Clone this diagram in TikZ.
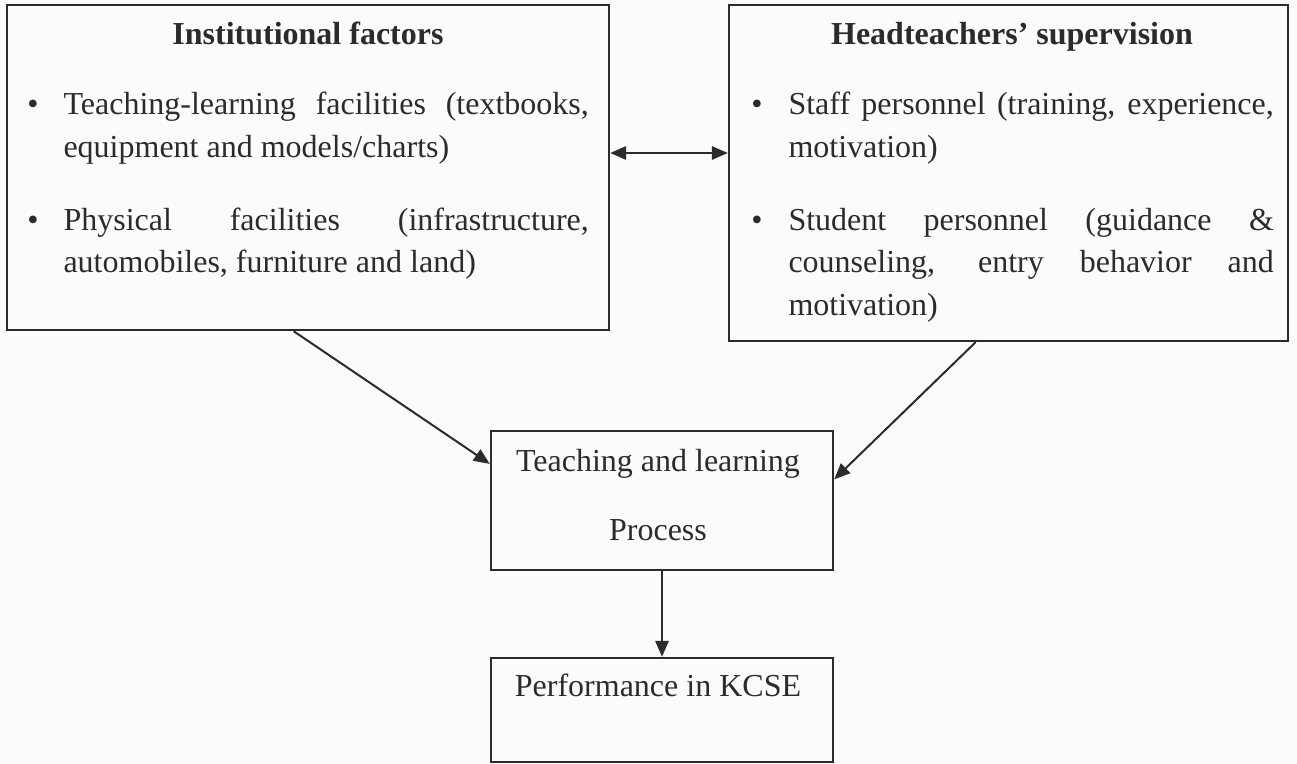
\documentclass[tikz,border=0pt]{standalone}
\usepackage{fontspec}
\setmainfont{Liberation Serif}
\usetikzlibrary{positioning}
\usetikzlibrary{arrows.meta}
\definecolor{ink}{rgb}{0.17,0.17,0.17}
\definecolor{paper}{rgb}{0.985,0.985,0.985}
\newcommand\looseline{\tolerance=10000\relax\hbadness=10000\relax
  \hyphenpenalty=10000\relax\exhyphenpenalty=10000\relax}

\begin{document}
\begin{tikzpicture}[%
  x=0.375pt, y=-0.375pt,
  every node/.style={inner sep=0pt, text=ink, font=\fontsize{12}{16.1}\selectfont},
  box/.style={draw=ink, line width=0.9pt},
  heading/.style={anchor=base, font=\fontsize{12}{16.1}\selectfont\bfseries},
  dot/.style={anchor=base},
  item/.style={anchor=base west, align=justify},
  link/.style={draw=ink, line width=0.75pt, -{Triangle[length=6pt,width=5pt]}},
  twoway/.style={draw=ink, line width=0.75pt, {Triangle[length=6pt,width=5pt]}-{Triangle[length=6pt,width=5pt]}},
]

  \useasboundingbox (0,0) rectangle (1297,764);
  \fill[paper] (0,0) rectangle (1297,764);

  % boxes
  \node[box, minimum width=225.75pt, minimum height=121.9pt] (instbox) at (308,167.5) {};
  \node[box, minimum width=209.6pt, minimum height=126pt] (supbox) at (1008.5,173) {};
  \node[box, minimum width=128.25pt, minimum height=52.1pt] (tlbox) at (662,500.5) {};
  \node[box, minimum width=128.25pt, minimum height=39pt] (perfbox) at (662,710) {};

  % institutional factors
  \node[heading] (insttitle) at (308,44) {Institutional factors};
  \node[dot] (instdotA) at (33,115) {\textbullet};
  \node[item, text width=197pt] (instA) at (63,115)
    {\looseline Teaching-learning facilities (textbooks,\linebreak equipment and models/charts)};
  \node[dot] (instdotB) at (33,230) {\textbullet};
  \node[item, text width=197pt] (instB) at (63,230)
    {\looseline Physical facilities (infrastructure,\linebreak automobiles, furniture and land)};

  % headteachers' supervision
  \node[heading] (suptitle) at (1012,44) {Headteachers' supervision};
  \node[dot] (supdotA) at (757,115) {\textbullet};
  \node[item, text width=182pt] (supA) at (788,115)
    {\looseline Staff personnel (training, experience,\linebreak motivation)};
  \node[dot] (supdotB) at (757,230) {\textbullet};
  \node[item, text width=182pt] (supB) at (788,230)
    {\looseline Student personnel (guidance \&\linebreak counseling, entry behavior and\linebreak motivation)};

  % process and outcome
  \node[anchor=base] (tltextA) at (658,471) {Teaching and learning};
  \node[anchor=base] (tltextB) at (658,540) {Process};
  \node[anchor=base] (perftext) at (658,696) {Performance in KCSE};

  % links
  \coordinate (between) at (669,153);
  \draw[twoway] (instbox.east |- between) -- (supbox.west |- between);
  \draw[link] (instbox.265) -- (tlbox.168);
  \draw[link] (supbox.259) -- (tlbox.7);
  \draw[link] (tlbox.south) -- (perfbox.north);

\end{tikzpicture}
\end{document}
